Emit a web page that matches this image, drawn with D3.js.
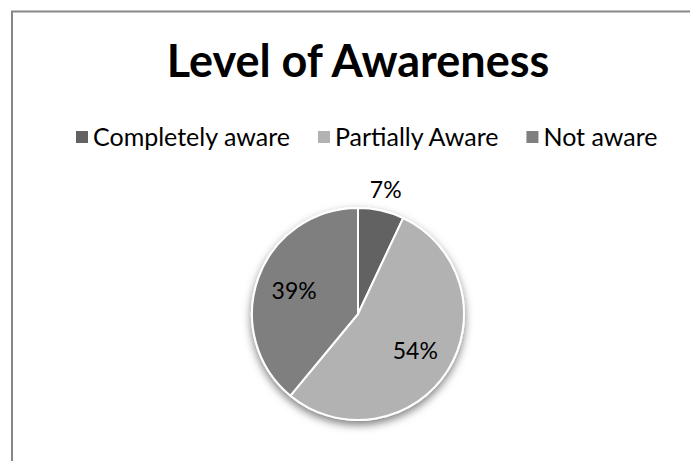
<!DOCTYPE html>
<html>
<head>
<meta charset="utf-8">
<script src="https://cdn.jsdelivr.net/npm/d3@7"></script>
<style>
  body { margin: 0; background: #fff; }
  svg { display: block; font-family: Lato, "Open Sans", sans-serif; }
</style>
</head>
<body>
<script>
// data
var categories = ["Completely aware", "Partially Aware", "Not aware"];
var values = [7, 54, 39];
var labels = ["7%", "54%", "39%"];
var colors = ["#626262", "#b2b2b2", "#7f7f7f"];
var title = "Level of Awareness";

var svgWidth = 690, svgHeight = 461;

var svg = d3.select("body").append("svg")
    .attr("width", svgWidth)
    .attr("height", svgHeight);

// drop shadow like the office chart
var defs = svg.append("defs");
var filter = defs.append("filter")
    .attr("id", "shadow")
    .attr("x", "-20%").attr("y", "-20%")
    .attr("width", "140%").attr("height", "150%");
filter.append("feDropShadow")
    .attr("dx", 0).attr("dy", 4)
    .attr("stdDeviation", 4)
    .attr("flood-color", "#000")
    .attr("flood-opacity", 0.5);

// chart frame (runs off the right/bottom of the picture)
svg.append("rect")
    .attr("x", 12).attr("y", 11.5)
    .attr("width", 720).attr("height", 500)
    .attr("fill", "none")
    .attr("stroke", "#878787")
    .attr("stroke-width", 2);

// title
svg.append("text")
    .attr("x", 358).attr("y", 77)
    .attr("text-anchor", "middle")
    .attr("font-size", 45)
    .attr("font-weight", "bold")
    .attr("fill", "#000")
    .text(title);

// legend
var legend = svg.append("g").attr("transform", "translate(76, 137)");
var lx = 0;
categories.forEach(function(c, i) {
  var item = legend.append("g").attr("transform", `translate(${lx}, 0)`);
  item.append("rect")
      .attr("x", 0).attr("y", -6)
      .attr("width", 12).attr("height", 12)
      .attr("fill", colors[i]);
  var t = item.append("text")
      .attr("x", 17).attr("y", 9)
      .attr("font-size", 25)
      .attr("fill", "#000")
      .text(c);
  lx += 17 + t.node().getComputedTextLength() + 28;
});

// pie
var radius = 106;
var pieGroup = svg.append("g")
    .attr("transform", "translate(358, 314)");

var pie = d3.pie().sort(null).value(d => d);
var arc = d3.arc().innerRadius(0).outerRadius(radius);
var arcs = pie(values);

pieGroup.append("g")
    .attr("filter", "url(#shadow)")
  .selectAll("path")
    .data(arcs)
    .enter()
    .append("path")
    .attr("d", arc)
    .attr("fill", (d, i) => colors[i])
    .attr("stroke", "#fff")
    .attr("stroke-width", 2)
    .attr("stroke-linejoin", "round");

// data labels: small slices go outside
var inLabel = d3.arc().innerRadius(radius * 0.64).outerRadius(radius * 0.64);
var outLabel = d3.arc().innerRadius(radius * 1.2).outerRadius(radius * 1.2);

pieGroup.selectAll("text.lbl")
    .data(arcs)
    .enter()
    .append("text")
    .attr("class", "lbl")
    .attr("transform", d => `translate(${(d.data < 10 ? outLabel : inLabel).centroid(d)})`)
    .attr("text-anchor", "middle")
    .attr("dy", "0.36em")
    .attr("font-size", 23)
    .attr("fill", "#000")
    .text((d, i) => labels[i]);
</script>
</body>
</html>
